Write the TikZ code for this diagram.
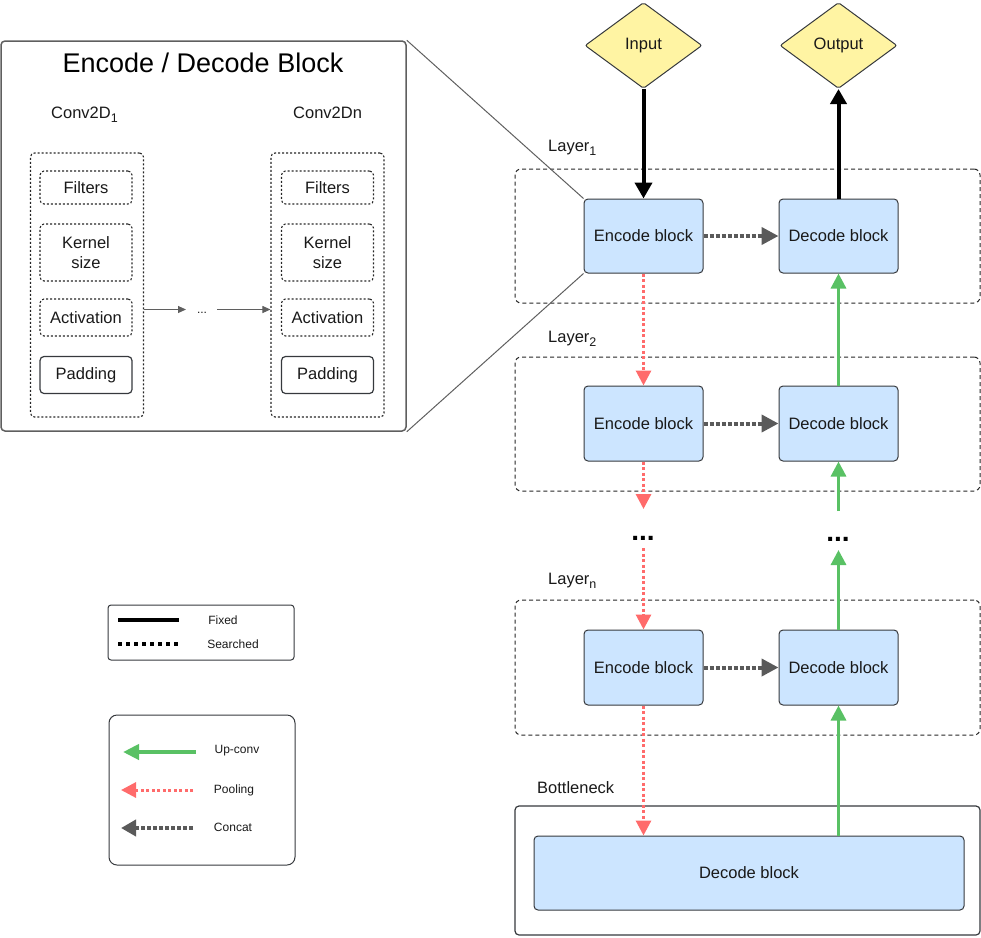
\documentclass[tikz,border=0pt]{standalone}
\usepackage{fontspec}
\setmainfont{Liberation Sans}
\usetikzlibrary{arrows.meta,shapes.geometric}
\definecolor{blockfill}{HTML}{CCE5FF}
\definecolor{blockdraw}{HTML}{36393D}
\definecolor{diafill}{HTML}{FFF4A3}
\definecolor{upgreen}{HTML}{59C164}
\definecolor{poolred}{HTML}{FF6B6B}
\definecolor{concatgray}{HTML}{5A5A5A}
\definecolor{framegray}{HTML}{5F5F5F}
\newcommand{\mysub}[1]{\raisebox{-4pt}{\fontsize{12.5}{13}\selectfont #1}}
\begin{document}
\begin{tikzpicture}[x=1pt,y=-1pt,
  txt/.style={font=\fontsize{16.5}{19.5}\selectfont, text=black!90},
  small/.style={font=\fontsize{12}{14}\selectfont, text=black!90},
  block/.style={txt, draw=blockdraw, fill=blockfill, rounded corners=4pt, line width=1pt, inner sep=0pt},
  dia/.style={txt, diamond, aspect=1.372, draw=blockdraw, fill=diafill, line width=1pt, inner sep=0pt, minimum width=117pt, minimum height=86pt, rounded corners=2pt},
  layerbox/.style={draw=black!85, dash pattern=on 4pt off 3pt, line width=1pt, rounded corners=6pt, inner sep=0pt},
  dotbox/.style={draw=black!85, dash pattern=on 2pt off 2pt, line width=1.1pt, rounded corners=4pt, inner sep=0pt},
  parbox/.style={txt, align=center, rounded corners=4pt, inner sep=0pt, minimum width=92pt},
  fixedarrow/.style={line width=4pt, draw=black, -{Triangle[length=16pt,width=17pt]}},
  uparrow/.style={line width=3.2pt, draw=upgreen, -{Triangle[length=15pt,width=15pt]}},
  poolarrow/.style={line width=3pt, draw=poolred, dash pattern=on 3pt off 2.5pt, -{Triangle[length=15pt,width=15pt]}},
  concatarrow/.style={line width=4pt, draw=concatgray, dash pattern=on 4pt off 2pt, -{Triangle[length=17pt,width=17pt]}},
  thin/.style={draw=framegray, line width=1pt},
  bigdots/.style={font=\bfseries\fontsize{28}{30}\selectfont, inner sep=0pt, anchor=base}
]
\useasboundingbox (0,0) rectangle (981,937);

% ---------- left zoom box ----------
\node[draw=framegray, line width=1.5pt, rounded corners=4pt, minimum width=405pt, minimum height=390pt, inner sep=0pt] (big) at (203.5,236) {};
\node[font=\fontsize{27}{30}\selectfont, anchor=base] (title) at (203,72) {Encode / Decode Block};
\node[txt, anchor=base west, inner sep=0pt] (c1) at (51,118) {Conv2D\mysub{1}};
\node[txt, anchor=base west, inner sep=0pt] (cn) at (293,118) {Conv2Dn};

\node[dotbox, minimum width=113pt, minimum height=264pt] (cont1) at (87,285) {};
\node[dotbox, minimum width=113pt, minimum height=264pt] (cont2) at (327.5,285) {};

\node[parbox, dotbox, minimum height=33pt] (f1) at (86,187.5) {Filters};
\node[parbox, dotbox, minimum height=57pt] (k1) at (86,252.5) {Kernel\\size};
\node[parbox, dotbox, minimum height=37pt] (a1) at (86,317.5) {Activation};
\node[parbox, draw=blockdraw, line width=1.2pt, minimum height=37pt] (p1) at (86,375) {Padding};

\node[parbox, dotbox, minimum height=33pt] (f2) at (327.5,187.5) {Filters};
\node[parbox, dotbox, minimum height=57pt] (k2) at (327.5,252.5) {Kernel\\size};
\node[parbox, dotbox, minimum height=37pt] (a2) at (327.5,317.5) {Activation};
\node[parbox, draw=blockdraw, line width=1.2pt, minimum height=37pt] (p2) at (327.5,375) {Padding};

\node[small, inner sep=0pt] (mid) at (202,313) {...};
\coordinate (m1) at (186,309.5);
\coordinate (m2) at (217,309.5);
\draw[thin, -{Triangle[length=8pt,width=7pt]}] (cont1.east |- m1) -- (m1);
\draw[thin, -{Triangle[length=8pt,width=7pt]}] (m2) -- (m2 -| cont2.west);

% ---------- right network ----------
\node[dia] (in) at (643.5,45.5) {Input};
\node[dia] (out) at (838.5,45.5) {Output};

\node[layerbox, minimum width=465pt, minimum height=134pt] (L1) at (747.5,236) {};
\node[layerbox, minimum width=465pt, minimum height=134pt] (L2) at (747.5,424) {};
\node[layerbox, minimum width=465pt, minimum height=135pt] (L3) at (747.5,667.5) {};
\node[draw=blockdraw, line width=1.2pt, rounded corners=4pt, minimum width=465pt, minimum height=129pt, inner sep=0pt] (BN) at (747.5,870.5) {};

\node[txt, anchor=base west, inner sep=0pt] (l1lab) at (548,151) {Layer\mysub{1}};
\node[txt, anchor=base west, inner sep=0pt] (l2lab) at (548,342) {Layer\mysub{2}};
\node[txt, anchor=base west, inner sep=0pt] (l3lab) at (548,584) {Layer\mysub{n}};
\node[txt, anchor=base west, inner sep=0pt] (bnlab) at (537,793) {Bottleneck};

\node[block, minimum width=119pt, minimum height=74pt] (e1) at (643.5,236) {Encode block};
\node[block, minimum width=119pt, minimum height=74pt] (d1) at (838.5,236) {Decode block};
\node[block, minimum width=119pt, minimum height=75pt] (e2) at (643.5,423.5) {Encode block};
\node[block, minimum width=119pt, minimum height=75pt] (d2) at (838.5,423.5) {Decode block};
\node[block, minimum width=119pt, minimum height=75pt] (e3) at (643.5,667.5) {Encode block};
\node[block, minimum width=119pt, minimum height=75pt] (d3) at (838.5,667.5) {Decode block};
\node[block, minimum width=430pt, minimum height=74pt] (bd) at (749,873) {Decode block};

\node[bigdots] (dotsL) at (643,540) {...};
\node[bigdots] (dotsR) at (838,541) {...};

% zoom lines
\draw[thin] (big.north east) -- (e1.north west);
\draw[thin] (big.south east) -- (e1.south west);

% fixed
\draw[fixedarrow] (in.south) -- (e1.north);
\draw[fixedarrow, -{Triangle[length=15pt,width=16pt]}] (d1.north) -- (out.south);

% concat
\draw[concatarrow] (e1.east) -- (d1.west);
\draw[concatarrow] (e2.east) -- (d2.west);
\draw[concatarrow] (e3.east) -- (d3.west);

% pooling
\coordinate (pA) at (643.5,509);
\coordinate (pB) at (643.5,548);
\draw[poolarrow] (e1.south) -- (e2.north);
\draw[poolarrow] (e2.south) -- (pA);
\draw[poolarrow] (pB) -- (e3.north);
\draw[poolarrow] (e3.south) -- (bd.north -| e3.south);

% up-conv
\coordinate (gA) at (838.5,511);
\coordinate (gB) at (838.5,550);
\draw[uparrow] (d2.north) -- (d1.south);
\draw[uparrow] (gA) -- (d2.south);
\draw[uparrow] (d3.north) -- (gB);
\draw[uparrow] (bd.north -| d3.south) -- (d3.south);

% ---------- legends ----------
\node[draw=blockdraw, line width=1pt, rounded corners=3pt, minimum width=186pt, minimum height=55pt, inner sep=0pt] (leg1) at (201,632.5) {};
\coordinate (f1a) at (118,620); \coordinate (f1b) at (179,620);
\coordinate (s1a) at (118,644); \coordinate (s1b) at (179,644);
\draw[line width=4pt, black] (f1a) -- (f1b);
\draw[line width=3.5pt, black, dash pattern=on 3.5pt off 4.5pt] (s1a) -- (s1b);
\node[small] (fixedlab) at (223,620) {Fixed};
\node[small] (searchlab) at (233,644) {Searched};

\node[draw=blockdraw, line width=1pt, rounded corners=8pt, minimum width=186pt, minimum height=150pt, inner sep=0pt] (leg2) at (202,790) {};
\coordinate (ga) at (196,752); \coordinate (gb) at (123,752);
\coordinate (pa) at (193,790); \coordinate (pb) at (121,790);
\coordinate (ca) at (193,828); \coordinate (cb) at (121,828);
\draw[uparrow, line width=4pt, -{Triangle[length=16pt,width=15pt]}] (ga) -- (gb);
\draw[poolarrow] (pa) -- (pb);
\draw[concatarrow, -{Triangle[length=15pt,width=16pt]}] (ca) -- (cb);
\node[small] (uplab) at (237,751) {Up-conv};
\node[small] (poollab) at (234,790) {Pooling};
\node[small] (conlab) at (233,827) {Concat};
\end{tikzpicture}
\end{document}
